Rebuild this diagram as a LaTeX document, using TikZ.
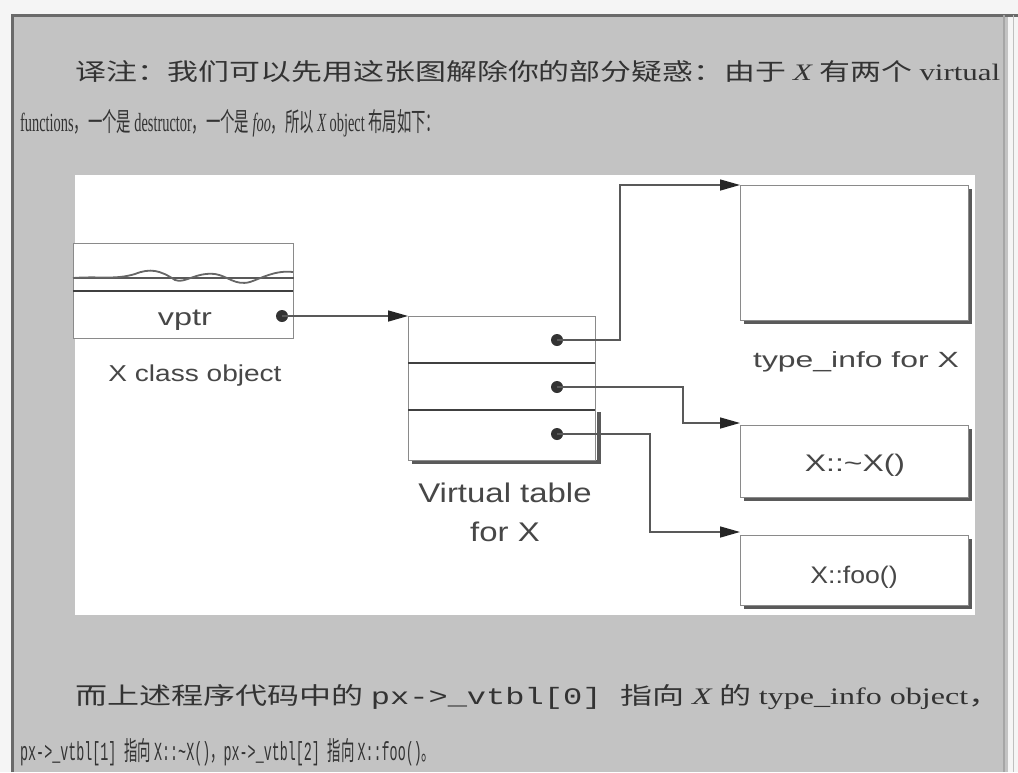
\documentclass[tikz,border=0pt]{standalone}
\usepackage{fontspec}
\setmainfont{Liberation Serif}
\setsansfont{Liberation Sans}
\setmonofont{Liberation Mono}
\newfontfamily\cjk{Noto Sans CJK SC}
\usetikzlibrary{arrows.meta}
\definecolor{bg}{HTML}{C3C3C3}
\definecolor{frame}{HTML}{6A6A6A}
\definecolor{ink}{HTML}{333333}
\definecolor{outl}{HTML}{8A8A8A}
\definecolor{shad}{HTML}{5A5A5A}
\tikzset{
  rect/.style={draw=outl, line width=1.3pt, fill=white, inner sep=0pt, anchor=north west},
  lbl/.style={text=black!72, inner sep=0pt},
  dotn/.style={circle, fill=ink, inner sep=0pt, minimum size=12pt},
  conn/.style={draw=black!65, line width=1.5pt, -{Triangle[length=20pt,width=11pt,color=black!85]}},
  shadowline/.style={draw=shad, line width=4pt},
  txt/.style={text=ink, inner sep=0pt, anchor=west}
}
\newcommand{\zhline}[3]{\resizebox{#1}{#2}{\fontsize{20}{24}\selectfont #3}}
\newcommand{\sxl}[3]{\scalebox{#1}[1]{\sffamily\fontsize{#2}{#2}\selectfont #3}}
\begin{document}
\begin{tikzpicture}[x=1pt,y=-1pt]
\useasboundingbox (0,0) rectangle (1018,772);
\fill[black!4] (0,0) rectangle (1018,772);
\fill[bg] (12,15) rectangle (1008,772);
\draw[frame, line width=3pt] (12,772) -- (12,15) -- (1018,15);
\draw[black!35, line width=1.5pt] (1004,15) -- (1004,772);
\draw[black!25, line width=1pt] (1013,15) -- (1013,772);
% white panel
\fill[white] (75,175) rectangle (975,615);

% top text
\node[txt] (t1) at (75,72) {\zhline{925pt}{20pt}{\cjk 译注：我们可以先用这张图解除你的部分疑惑：由于 \rmfamily\itshape X \upshape\cjk 有两个 \rmfamily virtual}};
\node[txt] (t2) at (20,123) {\zhline{420pt}{22pt}{\rmfamily functions\cjk ，一个是 \rmfamily destructor\cjk ，一个是 \rmfamily\itshape foo\upshape\cjk ，所以 \rmfamily\itshape X \upshape object \cjk 布局如下：}};

% bottom text
\node[txt] (b1) at (75,697) {\zhline{925pt}{20pt}{\cjk 而上述程序代码中的 \ttfamily px->\_vtbl[0] \cjk 指向 \rmfamily\itshape X \upshape\cjk 的 \rmfamily type\_info object\cjk ，}};
\node[txt] (b2) at (20,752) {\zhline{415pt}{22pt}{\ttfamily px->\_vtbl[1] \cjk 指向 \ttfamily X::\~{}X()\cjk ，\ttfamily px->\_vtbl[2] \cjk 指向 \ttfamily X::foo()\cjk 。}};

% X class object
\node[rect, minimum width=220pt, minimum height=95pt] (obj) at (73,243) {};
\draw[black!65, line width=1.3pt] (obj.west |- 0,278) -- (obj.east |- 0,278);
\draw[black!60, line width=1.8pt] (73,278)
  .. controls (100,276) and (115,280) .. (135,274)
  .. controls (150,268) and (160,270) .. (175,280)
  .. controls (185,284) and (195,272) .. (215,274)
  .. controls (228,276) and (235,286) .. (250,282)
  .. controls (262,278) and (275,270) .. (293,272);
\draw[black!75, line width=2.2pt] (73,291) -- (293,291);
\node[lbl] (vptr) at (185,320) {\sxl{1.35}{24}{vptr}};
\node[dotn] (vp) at (282,316) {};
\node[lbl] (objl) at (195,376) {\sxl{1.22}{23}{X class object}};

% virtual table
\draw[shadowline] (412,462) -- (599,462) -- (599,412);
\node[rect, minimum width=187pt, minimum height=144pt] (vt) at (408,316) {};
\draw[black!75, line width=2.2pt] (408,363) -- (595,363);
\draw[black!75, line width=2.2pt] (408,410) -- (595,410);
\node[dotn] (d1) at (557,340) {};
\node[dotn] (d2) at (557,387) {};
\node[dotn] (d3) at (557,434) {};
\node[lbl] (vtl1) at (505,493) {\sxl{1.22}{27}{Virtual table}};
\node[lbl] (vtl2) at (505,532) {\sxl{1.22}{27}{for X}};

% right boxes
\draw[shadowline] (744,322) -- (970,322) -- (970,189);
\node[rect, minimum width=228pt, minimum height=135pt] (ti) at (740,185) {};
\node[lbl] (til) at (856,362) {\sxl{1.45}{22}{type\_info for X}};

\draw[shadowline] (744,499) -- (970,499) -- (970,429);
\node[rect, minimum width=228pt, minimum height=72pt] (dtor) at (740,425) {};
\node[lbl] (dtorl) at (855,465) {\sxl{1.33}{24}{X::\textasciitilde X()}};

\draw[shadowline] (744,607) -- (970,607) -- (970,539);
\node[rect, minimum width=228pt, minimum height=70pt] (foo) at (740,535) {};
\node[lbl] (fool) at (854,577) {\sxl{1.11}{24}{X::foo()}};

% connectors
\draw[conn] (vp.center) -- (vt.north west);
\draw[conn] (d1.center) -- +(63,0) |- (ti.north west);
\draw[conn] (d2.center) -- +(126,0) |- ([yshift=2pt]dtor.north west);
\draw[conn] (d3.center) -- +(93,0) |- ([yshift=3pt]foo.north west);
\end{tikzpicture}
\end{document}
